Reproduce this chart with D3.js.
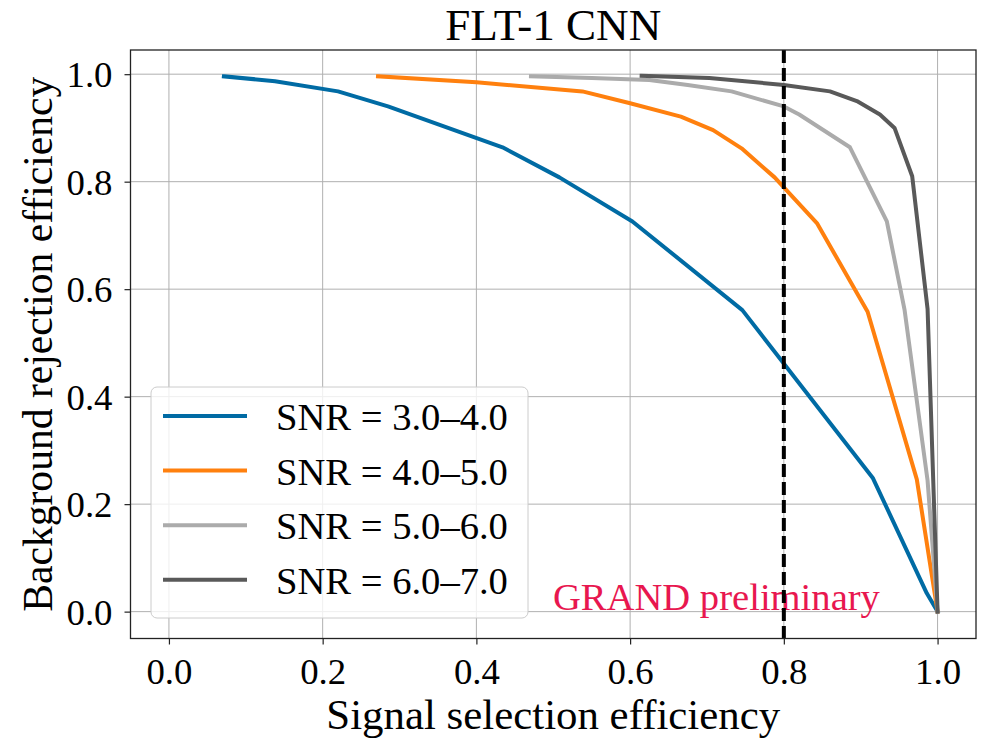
<!DOCTYPE html>
<html><head><meta charset="utf-8">
<script src="https://cdn.jsdelivr.net/npm/d3@7"></script>
<style>
body{margin:0;background:#fff;}
text{font-family:"Liberation Serif","DejaVu Serif",serif;fill:#000;}
</style>
</head><body>
<svg id="chart" width="982" height="738"></svg>
<script>
// ---------------- data ----------------
const seriesNames = ["SNR = 3.0–4.0", "SNR = 4.0–5.0", "SNR = 5.0–6.0", "SNR = 6.0–7.0"];
const snr34 = [[0.0715,0.996],[0.138,0.987],[0.220,0.968],[0.285,0.940],[0.434,0.864],[0.508,0.808],[0.603,0.726],[0.746,0.561],[0.916,0.248],[0.986,0.034],[1.0,0.0]];
const snr45 = [[0.272,0.996],[0.40,0.985],[0.538,0.968],[0.600,0.946],[0.666,0.921],[0.708,0.896],[0.745,0.862],[0.788,0.808],[0.843,0.723],[0.909,0.558],[0.973,0.246],[1.0,0.0]];
const snr56 = [[0.471,0.996],[0.55,0.993],[0.625,0.989],[0.675,0.980],[0.732,0.968],[0.800,0.940],[0.820,0.925],[0.886,0.864],[0.934,0.726],[0.957,0.562],[0.987,0.244],[1.0,0.0]];
const snr67 = [[0.615,0.997],[0.703,0.993],[0.800,0.980],[0.860,0.968],[0.895,0.950],[0.925,0.925],[0.944,0.900],[0.967,0.810],[0.987,0.563],[1.0,0.0]];
const cutValue = 0.8;
const xTicks = [0.0, 0.2, 0.4, 0.6, 0.8, 1.0];
const yTicks = [0.0, 0.2, 0.4, 0.6, 0.8, 1.0];
const titleText = "FLT-1 CNN";
const xLabel = "Signal selection efficiency";
const yLabel = "Background rejection efficiency";
const watermark = "GRAND preliminary";

// ---------------- style ----------------
const seriesData = [snr34, snr45, snr56, snr67];
const colors = ["#006BA4", "#FF800E", "#ABABAB", "#595959"];
const svg = d3.select("#chart");
const L = 130.5, R = 976, T = 50, B = 638.5;
const x = d3.scaleLinear().domain([-0.05, 1.05]).range([L, R]);
const y = d3.scaleLinear().domain([-0.05, 1.045]).range([B, T]);

function fit(sel, w) {
  const len = sel.node().getComputedTextLength();
  const fs = parseFloat(sel.attr("font-size"));
  sel.attr("font-size", fs * w / len);
  return sel;
}

// grid
const grid = svg.append("g");
grid.selectAll(".gx").data(xTicks).join("line")
  .attr("x1", d => x(d)).attr("x2", d => x(d)).attr("y1", T).attr("y2", B)
  .attr("stroke", "#b0b0b0").attr("stroke-width", 1);
grid.selectAll(".gy").data(yTicks).join("line")
  .attr("y1", d => y(d)).attr("y2", d => y(d)).attr("x1", L).attr("x2", R)
  .attr("stroke", "#b0b0b0").attr("stroke-width", 1);

// curves
const line = d3.line().x(d => x(d[0])).y(d => y(d[1]));
svg.append("g").selectAll("path").data(seriesData).join("path")
  .attr("d", line).attr("fill", "none")
  .attr("stroke", (d, i) => colors[i]).attr("stroke-width", 4)
  .attr("stroke-linejoin", "round").attr("stroke-linecap", "square");

// watermark
const wm = svg.append("text").attr("x", 553).attr("y", 610)
  .attr("font-size", 37).style("fill", "#E8174F").text(watermark);
fit(wm, 327);

// cut line
svg.append("line").attr("x1", x(cutValue)).attr("x2", x(cutValue)).attr("y1", T).attr("y2", B)
  .attr("stroke", "#000").attr("stroke-width", 4).attr("stroke-dasharray", "13,5");

// legend
const lg = svg.append("g");
lg.append("rect").attr("x", 151).attr("y", 387).attr("width", 377).attr("height", 231)
  .attr("rx", 6).attr("fill", "#fff").attr("fill-opacity", 0.8)
  .attr("stroke", "#cccccc").attr("stroke-width", 1);
seriesNames.forEach((n, i) => {
  const yy = 416 + i * 54.6;
  lg.append("line").attr("x1", 163).attr("x2", 247).attr("y1", yy).attr("y2", yy)
    .attr("stroke", colors[i]).attr("stroke-width", 4);
  const t = lg.append("text").attr("x", 276).attr("y", yy + 14).attr("font-size", 35).text(n);
  fit(t, 232);
});

// axes
const ax = d3.axisBottom(x).tickValues(xTicks).tickFormat(d3.format(".1f")).tickSize(6).tickPadding(10);
const gx = svg.append("g").attr("transform", `translate(0,${B})`).call(ax);
const ay = d3.axisLeft(y).tickValues(yTicks).tickFormat(d3.format(".1f")).tickSize(6).tickPadding(12);
const gy = svg.append("g").attr("transform", `translate(${L},0)`).call(ay);
[gx, gy].forEach(g => {
  g.select(".domain").remove();
  g.selectAll(".tick line").attr("stroke", "#222").attr("stroke-width", 1.2);
  g.selectAll(".tick text").attr("font-family", null).attr("font-size", 36).style("fill", "#000");
});
gx.selectAll(".tick text").attr("dy", null).attr("y", 45);
gy.selectAll(".tick text").attr("dy", "0.34em");
{
  const t0 = gx.select(".tick text");
  const len = t0.node().getComputedTextLength();
  const fs = 36 * 46 / len;
  gx.selectAll(".tick text").attr("font-size", fs);
  gy.selectAll(".tick text").attr("font-size", fs);
}
svg.append("rect").attr("x", L).attr("y", T).attr("width", R - L).attr("height", B - T)
  .attr("fill", "none").attr("stroke", "#222").attr("stroke-width", 1.3);

// titles
const tt = svg.append("text").attr("x", (L + R) / 2).attr("y", 40).attr("text-anchor", "middle")
  .attr("font-size", 43).text(titleText);
fit(tt, 216);
const xl = svg.append("text").attr("x", (L + R) / 2).attr("y", 729).attr("text-anchor", "middle")
  .attr("font-size", 38).text(xLabel);
fit(xl, 454);
const yl = svg.append("text").attr("transform", `translate(52,${(T + B) / 2}) rotate(-90)`)
  .attr("text-anchor", "middle").attr("font-size", 38).text(yLabel);
fit(yl, 535);
</script>
</body></html>
